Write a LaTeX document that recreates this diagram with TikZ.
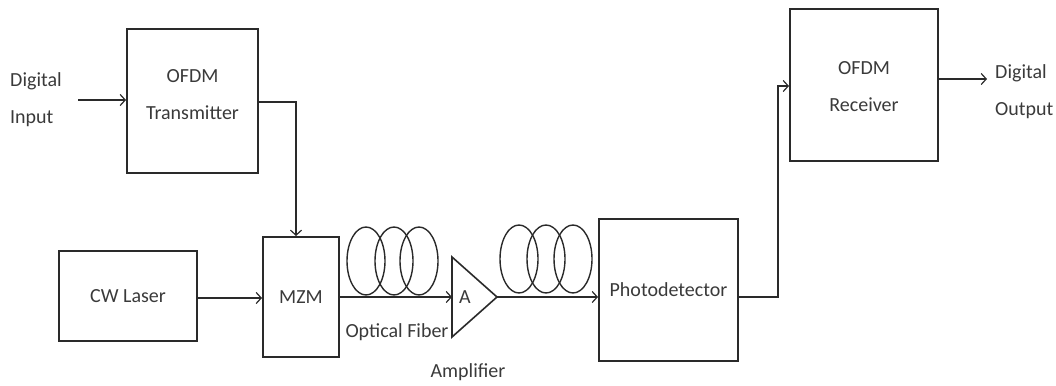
\documentclass[tikz,border=0pt]{standalone}
\usepackage{fontspec}
\setmainfont{Carlito}
\usetikzlibrary{arrows.meta}
\definecolor{ln}{HTML}{2A2A2A}
\definecolor{tx}{HTML}{3A3A3A}
\tikzset{
  blk/.style={draw=ln,line width=2pt,inner sep=0pt,anchor=north west,text=tx,font=\fontsize{20}{37}\selectfont,align=center},
  lbl/.style={text=tx,font=\fontsize{20}{37}\selectfont,align=left,inner sep=0pt},
  ctr/.style={text=tx,font=\fontsize{20}{37}\selectfont,align=center,inner sep=0pt},
  conn/.style={draw=ln,line width=2pt,-{Straight Barb[length=5pt,width=11pt,line width=1.2pt]}},
  wire/.style={draw=ln,line width=2pt},
  coil/.style={draw=ln,line width=1.4pt}
}
\begin{document}
\begin{tikzpicture}[x=1pt,y=-1pt]
\useasboundingbox (0,0) rectangle (1056,385);
% blocks
\node[blk,minimum width=131pt,minimum height=144pt] (tx) at (126,28) {};
\node[ctr] (txt1) at ([yshift=6pt]tx.center) {OFDM\\Transmitter};
\node[blk,minimum width=138pt,minimum height=90pt] (cw) at (58,250) {CW Laser};
\node[blk,minimum width=76pt,minimum height=120pt] (mzm) at (262,236) {MZM};
\node[blk,minimum width=139pt,minimum height=142pt] (pd) at (598,218) {Photodetector};
\node[blk,minimum width=148pt,minimum height=152pt] (rx) at (789,8) {};
\node[ctr] (txt2) at ([yshift=-2pt]rx.center) {OFDM\\Receiver};
% labels
\node[lbl,anchor=west] (din) at (10,100) {Digital\\Input};
\node[lbl,anchor=west] (dout) at (995,92) {Digital\\Output};
\node[lbl] (oflbl) at (397,332) {Optical Fiber};
\node[lbl] (amplbl) at (468,372) {Amplifier};
% amplifier
\coordinate (ampL) at (452,297);
\coordinate (ampR) at (497,297);
\draw[wire,line width=1.6pt] (452,257) -- (ampR) -- (452,337) -- cycle;
\node[lbl] (amp) at (465,297) {A};
% coils
\foreach \cx in {366,394,419} \draw[coil] (\cx,261) ellipse (19 and 34);
\foreach \cx in {519,546,573} \draw[coil] (\cx,259) ellipse (19 and 34);
% connectors
\coordinate (dinend) at (78,100);
\draw[conn] (dinend) -- (tx.west |- dinend);
\draw[conn] (tx.east |- 0,102) -| (296,236);
\draw[conn] (cw.east |- 0,298) -- (mzm.west |- 0,298);
\draw[conn] (mzm.east |- ampL) -- (ampL);
\draw[conn] (ampR) -- (pd.west |- ampR);
\draw[conn] (pd.east |- 0,297) -- (778,297) |- (rx.west |- 0,86);
\draw[conn] (rx.east |- 0,79) -- (987,79);
\end{tikzpicture}
\end{document}
